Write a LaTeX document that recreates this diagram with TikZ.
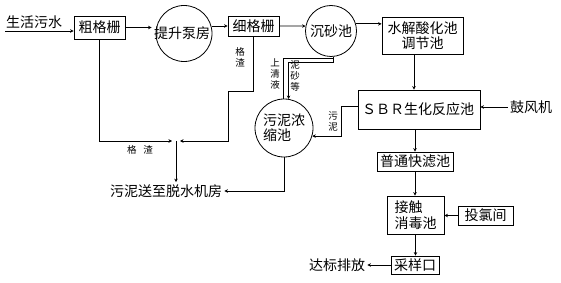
\documentclass[tikz,border=0pt]{standalone}
\usepackage{fontspec}
\setmainfont{Noto Sans CJK SC}
\usetikzlibrary{arrows.meta}
\begin{document}
\begin{tikzpicture}[x=1pt,y=-1pt, line width=0.8pt,
  box/.style={draw, rectangle, inner sep=0pt, font=\fontsize{14}{15.5}\selectfont, align=center},
  txt/.style={inner sep=2pt, font=\fontsize{14}{16}\selectfont},
  lbl/.style={inner sep=0pt, font=\fontsize{9.5}{11}\selectfont, align=center},
  arr/.style={-{Stealth[length=3.5pt,width=3.5pt]}},
  ring/.style={draw, circle, inner sep=0pt}]
\fill[white] (0,0) rectangle (561,283);
\useasboundingbox (0,0) rectangle (561,283);

% nodes
\node[txt] (src) at (34,22) {生活污水};
\coordinate (s0) at (5,31);
\node[box, minimum width=51pt, minimum height=23pt] (cu) at (99.5,27.5) {粗格栅};
\node[ring, minimum size=56pt] (pump) at (184,33.5) {};
\node[txt] (pumpt) at (182,33) {提升泵房};
\node[box, minimum width=51pt, minimum height=20pt] (fi) at (253.5,26) {细格栅};
\node[ring, minimum size=51pt, font=\fontsize{14}{16}\selectfont] (sand) at (331,31) {沉砂池};
\node[box, minimum width=81pt, minimum height=37pt] (hy) at (422.5,35.5) {水解酸化池\\调节池};
\node[box, minimum width=122pt, minimum height=39pt, text width=114pt, inner xsep=4pt, align=left] (sbr) at (419,109.5) {ＳＢＲ生化反应池};
\node[txt] (bl) at (531,107) {鼓风机};
\node[box, minimum width=76pt, minimum height=19pt] (fl) at (415,161.5) {普通快滤池};
\node[box, minimum width=57pt, minimum height=38pt, align=left] (dis) at (415.5,215) {接触\\消毒池};
\node[box, minimum width=55pt, minimum height=19pt] (chl) at (485.5,215.5) {投氯间};
\node[box, minimum width=48pt, minimum height=18pt] (smp) at (415,265) {采样口};
\node[txt] (dab) at (337,265) {达标排放};
\node[ring, minimum size=58pt, align=left, font=\fontsize{14}{15}\selectfont] (thk) at (284,128) {污泥浓\\缩池};
\node[txt] (out) at (166,191) {污泥送至脱水机房};
\coordinate (jn) at (176,141);

% labels
\node[lbl] (l1) at (240,57) {格\\渣};
\node[lbl] (l2) at (140,150) {格\hspace{7pt}渣};
\node[lbl] (l3) at (275,74) {上\\清\\液};
\node[lbl] (l4) at (295,76) {泥\\砂\\等};
\node[lbl] (l5) at (333,121) {污\\泥};

% main flow
\draw (s0) -- (s0 -| src.east);
\draw[arr] (s0) -- (s0 -| cu.west);
\draw[arr] (cu.east) -- (cu.east -| pumpt.west);
\draw[arr] (pumpt.east |- fi.west) -- (fi.west);
\draw[arr] (fi.east) -- (sand.169);
\draw[arr] (sand.16) -- (sand.16 -| hy.west);
\draw[arr] ([xshift=-8.5pt]hy.south) -- ([xshift=-8.5pt]hy.south |- sbr.north);
\draw[arr] (bl.west) -- (bl.west -| sbr.east);
\draw[arr] (fl.north |- sbr.south) -- (fl.north);
\draw[arr] (fl.south) -- (fl.south |- dis.north);
\draw[arr] (chl.west) -- (chl.west -| dis.east);
\draw[arr] (dis.south) -- (dis.south |- smp.north);
\draw[arr] (smp.west) -- (smp.west -| dab.east);

% screenings
\draw[arr] (cu.south) |- ([xshift=-4pt]jn);
\draw[arr] (fi.south) -- (253.5,91) -- (228,91) -- (228,141) -- ([xshift=4pt]jn);
\draw[arr] (jn) -- (jn |- out.north);

% sludge
\draw (sand.275) -- ++(0,1.5) -| (thk.92);
\draw[arr] (sand.275) -- ++(0,5.5) -| (thk.81);
\draw[arr] ([yshift=3.5pt]sbr.west) -- ++(-16,0) |- (thk.-16);
\draw[arr] (thk.south) |- (out.east);
\end{tikzpicture}
\end{document}
